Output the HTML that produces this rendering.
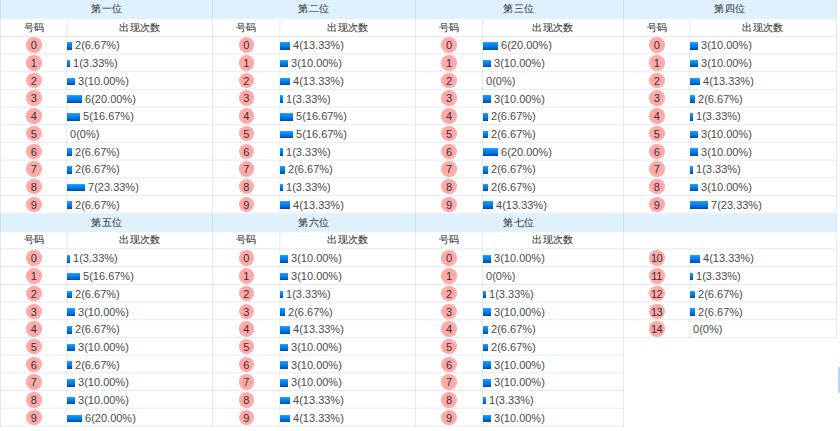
<!DOCTYPE html>
<html><head><meta charset="utf-8"><style>
html,body{margin:0;padding:0;background:#fff;width:840px;height:431px;overflow:hidden;position:relative}
body{font-family:"Liberation Sans",sans-serif;color:#4a4a4a;font-size:11px}
.t{position:absolute;width:120px;height:20px;line-height:20px;text-align:center;color:#383838;font-size:10px;margin-top:0.7px;transform:scale(1.035);-webkit-text-stroke:0.12px #555}
.c{position:absolute;width:15.5px;height:15.5px;border-radius:50%;background:#ffa9a9;text-align:center;line-height:17px;color:#333;letter-spacing:-0.5px;text-indent:-0.5px}
.v{position:absolute;height:20px;line-height:20px;white-space:nowrap}
.v i{display:inline-block;height:7.5px;vertical-align:-0.3px;background:linear-gradient(#45a3f0,#0893fb 18%,#0082ee 45%,#0066cc 75%,#004a9e)}
</style></head><body>
<div style="position:absolute;left:0px;top:0px;width:836px;height:18px;background:#dff1fc;"></div>
<div style="position:absolute;left:0px;top:214px;width:836px;height:17px;background:#dff1fc;"></div>
<div style="position:absolute;left:0px;top:18px;width:837px;height:1px;background:rgba(120,155,185,0.160);"></div>
<div style="position:absolute;left:0px;top:19px;width:837px;height:1px;background:rgba(120,155,185,0.040);"></div>
<div style="position:absolute;left:0px;top:35px;width:837px;height:1px;background:rgba(120,155,185,0.030);"></div>
<div style="position:absolute;left:0px;top:36px;width:837px;height:1px;background:rgba(120,155,185,0.170);"></div>
<div style="position:absolute;left:0px;top:53px;width:837px;height:1px;background:rgba(120,155,185,0.094);"></div>
<div style="position:absolute;left:0px;top:54px;width:837px;height:1px;background:rgba(120,155,185,0.106);"></div>
<div style="position:absolute;left:0px;top:71px;width:837px;height:1px;background:rgba(120,155,185,0.158);"></div>
<div style="position:absolute;left:0px;top:72px;width:837px;height:1px;background:rgba(120,155,185,0.042);"></div>
<div style="position:absolute;left:0px;top:88px;width:837px;height:1px;background:rgba(120,155,185,0.022);"></div>
<div style="position:absolute;left:0px;top:89px;width:837px;height:1px;background:rgba(120,155,185,0.178);"></div>
<div style="position:absolute;left:0px;top:106px;width:837px;height:1px;background:rgba(120,155,185,0.086);"></div>
<div style="position:absolute;left:0px;top:107px;width:837px;height:1px;background:rgba(120,155,185,0.114);"></div>
<div style="position:absolute;left:0px;top:124px;width:837px;height:1px;background:rgba(120,155,185,0.150);"></div>
<div style="position:absolute;left:0px;top:125px;width:837px;height:1px;background:rgba(120,155,185,0.050);"></div>
<div style="position:absolute;left:0px;top:141px;width:837px;height:1px;background:rgba(120,155,185,0.014);"></div>
<div style="position:absolute;left:0px;top:142px;width:837px;height:1px;background:rgba(120,155,185,0.186);"></div>
<div style="position:absolute;left:0px;top:159px;width:837px;height:1px;background:rgba(120,155,185,0.078);"></div>
<div style="position:absolute;left:0px;top:160px;width:837px;height:1px;background:rgba(120,155,185,0.122);"></div>
<div style="position:absolute;left:0px;top:177px;width:837px;height:1px;background:rgba(120,155,185,0.142);"></div>
<div style="position:absolute;left:0px;top:178px;width:837px;height:1px;background:rgba(120,155,185,0.058);"></div>
<div style="position:absolute;left:0px;top:194px;width:837px;height:1px;background:rgba(120,155,185,0.006);"></div>
<div style="position:absolute;left:0px;top:195px;width:837px;height:1px;background:rgba(120,155,185,0.194);"></div>
<div style="position:absolute;left:0px;top:212px;width:837px;height:1px;background:rgba(120,155,185,0.070);"></div>
<div style="position:absolute;left:0px;top:213px;width:837px;height:1px;background:rgba(120,155,185,0.130);"></div>
<div style="position:absolute;left:0px;top:231px;width:837px;height:1px;background:rgba(120,155,185,0.160);"></div>
<div style="position:absolute;left:0px;top:232px;width:837px;height:1px;background:rgba(120,155,185,0.040);"></div>
<div style="position:absolute;left:0px;top:248px;width:837px;height:1px;background:rgba(120,155,185,0.120);"></div>
<div style="position:absolute;left:0px;top:249px;width:837px;height:1px;background:rgba(120,155,185,0.080);"></div>
<div style="position:absolute;left:0px;top:266px;width:837px;height:1px;background:rgba(120,155,185,0.180);"></div>
<div style="position:absolute;left:0px;top:267px;width:837px;height:1px;background:rgba(120,155,185,0.020);"></div>
<div style="position:absolute;left:0px;top:283px;width:837px;height:1px;background:rgba(120,155,185,0.040);"></div>
<div style="position:absolute;left:0px;top:284px;width:837px;height:1px;background:rgba(120,155,185,0.160);"></div>
<div style="position:absolute;left:0px;top:301px;width:837px;height:1px;background:rgba(120,155,185,0.100);"></div>
<div style="position:absolute;left:0px;top:302px;width:837px;height:1px;background:rgba(120,155,185,0.100);"></div>
<div style="position:absolute;left:0px;top:319px;width:837px;height:1px;background:rgba(120,155,185,0.160);"></div>
<div style="position:absolute;left:0px;top:320px;width:837px;height:1px;background:rgba(120,155,185,0.040);"></div>
<div style="position:absolute;left:0px;top:336px;width:837px;height:1px;background:rgba(120,155,185,0.020);"></div>
<div style="position:absolute;left:0px;top:337px;width:837px;height:1px;background:rgba(120,155,185,0.180);"></div>
<div style="position:absolute;left:0px;top:354px;width:624px;height:1px;background:rgba(120,155,185,0.080);"></div>
<div style="position:absolute;left:0px;top:355px;width:624px;height:1px;background:rgba(120,155,185,0.120);"></div>
<div style="position:absolute;left:0px;top:372px;width:624px;height:1px;background:rgba(120,155,185,0.140);"></div>
<div style="position:absolute;left:0px;top:373px;width:624px;height:1px;background:rgba(120,155,185,0.060);"></div>
<div style="position:absolute;left:0px;top:390px;width:624px;height:1px;background:rgba(120,155,185,0.200);"></div>
<div style="position:absolute;left:0px;top:407px;width:624px;height:1px;background:rgba(120,155,185,0.060);"></div>
<div style="position:absolute;left:0px;top:408px;width:624px;height:1px;background:rgba(120,155,185,0.140);"></div>
<div style="position:absolute;left:0px;top:425px;width:624px;height:1px;background:rgba(120,155,185,0.120);"></div>
<div style="position:absolute;left:0px;top:426px;width:624px;height:1px;background:rgba(120,155,185,0.080);"></div>
<div style="position:absolute;left:0px;top:0px;width:1px;height:427px;background:rgba(120,155,185,0.200);"></div>
<div style="position:absolute;left:66px;top:19px;width:1px;height:194px;background:rgba(120,155,185,0.120);"></div>
<div style="position:absolute;left:67px;top:19px;width:1px;height:194px;background:rgba(120,155,185,0.080);"></div>
<div style="position:absolute;left:66px;top:232px;width:1px;height:195px;background:rgba(120,155,185,0.120);"></div>
<div style="position:absolute;left:67px;top:232px;width:1px;height:195px;background:rgba(120,155,185,0.080);"></div>
<div style="position:absolute;left:212px;top:0px;width:1px;height:427px;background:rgba(120,155,185,0.200);"></div>
<div style="position:absolute;left:279px;top:19px;width:1px;height:194px;background:rgba(120,155,185,0.120);"></div>
<div style="position:absolute;left:280px;top:19px;width:1px;height:194px;background:rgba(120,155,185,0.080);"></div>
<div style="position:absolute;left:279px;top:232px;width:1px;height:195px;background:rgba(120,155,185,0.120);"></div>
<div style="position:absolute;left:280px;top:232px;width:1px;height:195px;background:rgba(120,155,185,0.080);"></div>
<div style="position:absolute;left:414px;top:0px;width:1px;height:427px;background:rgba(120,155,185,0.030);"></div>
<div style="position:absolute;left:415px;top:0px;width:1px;height:427px;background:rgba(120,155,185,0.170);"></div>
<div style="position:absolute;left:482px;top:19px;width:1px;height:194px;background:rgba(120,155,185,0.200);"></div>
<div style="position:absolute;left:482px;top:232px;width:1px;height:195px;background:rgba(120,155,185,0.200);"></div>
<div style="position:absolute;left:622px;top:0px;width:1px;height:427px;background:rgba(120,155,185,0.008);"></div>
<div style="position:absolute;left:623px;top:0px;width:1px;height:427px;background:rgba(120,155,185,0.192);"></div>
<div style="position:absolute;left:689px;top:19px;width:1px;height:194px;background:rgba(120,155,185,0.120);"></div>
<div style="position:absolute;left:690px;top:19px;width:1px;height:194px;background:rgba(120,155,185,0.080);"></div>
<div style="position:absolute;left:689px;top:249px;width:1px;height:89px;background:rgba(120,155,185,0.120);"></div>
<div style="position:absolute;left:690px;top:249px;width:1px;height:89px;background:rgba(120,155,185,0.080);"></div>
<div style="position:absolute;left:835px;top:0px;width:1px;height:338px;background:rgba(120,155,185,0.050);"></div>
<div style="position:absolute;left:836px;top:0px;width:1px;height:338px;background:rgba(120,155,185,0.150);"></div>
<div class="t" style="left:46.50px;top:-1.40px">第一位</div>
<div class="t" style="left:-26.30px;top:17.02px">号码</div>
<div class="t" style="left:79.70px;top:17.02px">出现次数</div>
<div class="c" style="left:26.10px;top:37.44px">0</div>
<div class="v" style="left:67px;top:35.49px"><i style="width:5px"></i> 2(6.67%)</div>
<div class="c" style="left:26.10px;top:55.12px">1</div>
<div class="v" style="left:67px;top:53.17px"><i style="width:3px"></i> 1(3.33%)</div>
<div class="c" style="left:26.10px;top:72.80px">2</div>
<div class="v" style="left:67px;top:70.85px"><i style="width:8px"></i> 3(10.00%)</div>
<div class="c" style="left:26.10px;top:90.48px">3</div>
<div class="v" style="left:67px;top:88.53px"><i style="width:15px"></i> 6(20.00%)</div>
<div class="c" style="left:26.10px;top:108.16px">4</div>
<div class="v" style="left:67px;top:106.21px"><i style="width:13px"></i> 5(16.67%)</div>
<div class="c" style="left:26.10px;top:125.84px">5</div>
<div class="v" style="left:67px;top:123.89px"><i style="width:0px"></i> 0(0%)</div>
<div class="c" style="left:26.10px;top:143.52px">6</div>
<div class="v" style="left:67px;top:141.57px"><i style="width:5px"></i> 2(6.67%)</div>
<div class="c" style="left:26.10px;top:161.20px">7</div>
<div class="v" style="left:67px;top:159.25px"><i style="width:5px"></i> 2(6.67%)</div>
<div class="c" style="left:26.10px;top:178.88px">8</div>
<div class="v" style="left:67px;top:176.93px"><i style="width:18px"></i> 7(23.33%)</div>
<div class="c" style="left:26.10px;top:196.56px">9</div>
<div class="v" style="left:67px;top:194.61px"><i style="width:5px"></i> 2(6.67%)</div>
<div class="t" style="left:253.93px;top:-1.40px">第二位</div>
<div class="t" style="left:186.20px;top:17.02px">号码</div>
<div class="t" style="left:287.62px;top:17.02px">出现次数</div>
<div class="c" style="left:238.60px;top:37.44px">0</div>
<div class="v" style="left:280px;top:35.49px"><i style="width:10px"></i> 4(13.33%)</div>
<div class="c" style="left:238.60px;top:55.12px">1</div>
<div class="v" style="left:280px;top:53.17px"><i style="width:8px"></i> 3(10.00%)</div>
<div class="c" style="left:238.60px;top:72.80px">2</div>
<div class="v" style="left:280px;top:70.85px"><i style="width:10px"></i> 4(13.33%)</div>
<div class="c" style="left:238.60px;top:90.48px">3</div>
<div class="v" style="left:280px;top:88.53px"><i style="width:3px"></i> 1(3.33%)</div>
<div class="c" style="left:238.60px;top:108.16px">4</div>
<div class="v" style="left:280px;top:106.21px"><i style="width:13px"></i> 5(16.67%)</div>
<div class="c" style="left:238.60px;top:125.84px">5</div>
<div class="v" style="left:280px;top:123.89px"><i style="width:13px"></i> 5(16.67%)</div>
<div class="c" style="left:238.60px;top:143.52px">6</div>
<div class="v" style="left:280px;top:141.57px"><i style="width:3px"></i> 1(3.33%)</div>
<div class="c" style="left:238.60px;top:161.20px">7</div>
<div class="v" style="left:280px;top:159.25px"><i style="width:5px"></i> 2(6.67%)</div>
<div class="c" style="left:238.60px;top:178.88px">8</div>
<div class="v" style="left:280px;top:176.93px"><i style="width:3px"></i> 1(3.33%)</div>
<div class="c" style="left:238.60px;top:196.56px">9</div>
<div class="v" style="left:280px;top:194.61px"><i style="width:10px"></i> 4(13.33%)</div>
<div class="t" style="left:459.40px;top:-1.40px">第三位</div>
<div class="t" style="left:388.93px;top:17.02px">号码</div>
<div class="t" style="left:492.98px;top:17.02px">出现次数</div>
<div class="c" style="left:441.32px;top:37.44px">0</div>
<div class="v" style="left:483px;top:35.49px"><i style="width:15px"></i> 6(20.00%)</div>
<div class="c" style="left:441.32px;top:55.12px">1</div>
<div class="v" style="left:483px;top:53.17px"><i style="width:8px"></i> 3(10.00%)</div>
<div class="c" style="left:441.32px;top:72.80px">2</div>
<div class="v" style="left:483px;top:70.85px"><i style="width:0px"></i> 0(0%)</div>
<div class="c" style="left:441.32px;top:90.48px">3</div>
<div class="v" style="left:483px;top:88.53px"><i style="width:8px"></i> 3(10.00%)</div>
<div class="c" style="left:441.32px;top:108.16px">4</div>
<div class="v" style="left:483px;top:106.21px"><i style="width:5px"></i> 2(6.67%)</div>
<div class="c" style="left:441.32px;top:125.84px">5</div>
<div class="v" style="left:483px;top:123.89px"><i style="width:5px"></i> 2(6.67%)</div>
<div class="c" style="left:441.32px;top:143.52px">6</div>
<div class="v" style="left:483px;top:141.57px"><i style="width:15px"></i> 6(20.00%)</div>
<div class="c" style="left:441.32px;top:161.20px">7</div>
<div class="v" style="left:483px;top:159.25px"><i style="width:5px"></i> 2(6.67%)</div>
<div class="c" style="left:441.32px;top:178.88px">8</div>
<div class="v" style="left:483px;top:176.93px"><i style="width:5px"></i> 2(6.67%)</div>
<div class="c" style="left:441.32px;top:196.56px">9</div>
<div class="v" style="left:483px;top:194.61px"><i style="width:10px"></i> 4(13.33%)</div>
<div class="t" style="left:669.86px;top:-1.40px">第四位</div>
<div class="t" style="left:596.68px;top:17.02px">号码</div>
<div class="t" style="left:703.08px;top:17.02px">出现次数</div>
<div class="c" style="left:649.08px;top:37.44px">0</div>
<div class="v" style="left:690px;top:35.49px"><i style="width:8px"></i> 3(10.00%)</div>
<div class="c" style="left:649.08px;top:55.12px">1</div>
<div class="v" style="left:690px;top:53.17px"><i style="width:8px"></i> 3(10.00%)</div>
<div class="c" style="left:649.08px;top:72.80px">2</div>
<div class="v" style="left:690px;top:70.85px"><i style="width:10px"></i> 4(13.33%)</div>
<div class="c" style="left:649.08px;top:90.48px">3</div>
<div class="v" style="left:690px;top:88.53px"><i style="width:5px"></i> 2(6.67%)</div>
<div class="c" style="left:649.08px;top:108.16px">4</div>
<div class="v" style="left:690px;top:106.21px"><i style="width:3px"></i> 1(3.33%)</div>
<div class="c" style="left:649.08px;top:125.84px">5</div>
<div class="v" style="left:690px;top:123.89px"><i style="width:8px"></i> 3(10.00%)</div>
<div class="c" style="left:649.08px;top:143.52px">6</div>
<div class="v" style="left:690px;top:141.57px"><i style="width:8px"></i> 3(10.00%)</div>
<div class="c" style="left:649.08px;top:161.20px">7</div>
<div class="v" style="left:690px;top:159.25px"><i style="width:3px"></i> 1(3.33%)</div>
<div class="c" style="left:649.08px;top:178.88px">8</div>
<div class="v" style="left:690px;top:176.93px"><i style="width:8px"></i> 3(10.00%)</div>
<div class="c" style="left:649.08px;top:196.56px">9</div>
<div class="v" style="left:690px;top:194.61px"><i style="width:18px"></i> 7(23.33%)</div>
<div class="t" style="left:46.50px;top:211.93px">第五位</div>
<div class="t" style="left:-26.30px;top:229.80px">号码</div>
<div class="t" style="left:79.70px;top:229.80px">出现次数</div>
<div class="c" style="left:26.10px;top:250.40px">0</div>
<div class="v" style="left:67px;top:248.45px"><i style="width:3px"></i> 1(3.33%)</div>
<div class="c" style="left:26.10px;top:268.10px">1</div>
<div class="v" style="left:67px;top:266.15px"><i style="width:13px"></i> 5(16.67%)</div>
<div class="c" style="left:26.10px;top:285.80px">2</div>
<div class="v" style="left:67px;top:283.85px"><i style="width:5px"></i> 2(6.67%)</div>
<div class="c" style="left:26.10px;top:303.50px">3</div>
<div class="v" style="left:67px;top:301.55px"><i style="width:8px"></i> 3(10.00%)</div>
<div class="c" style="left:26.10px;top:321.20px">4</div>
<div class="v" style="left:67px;top:319.25px"><i style="width:5px"></i> 2(6.67%)</div>
<div class="c" style="left:26.10px;top:338.90px">5</div>
<div class="v" style="left:67px;top:336.95px"><i style="width:8px"></i> 3(10.00%)</div>
<div class="c" style="left:26.10px;top:356.60px">6</div>
<div class="v" style="left:67px;top:354.65px"><i style="width:5px"></i> 2(6.67%)</div>
<div class="c" style="left:26.10px;top:374.30px">7</div>
<div class="v" style="left:67px;top:372.35px"><i style="width:8px"></i> 3(10.00%)</div>
<div class="c" style="left:26.10px;top:392.00px">8</div>
<div class="v" style="left:67px;top:390.05px"><i style="width:8px"></i> 3(10.00%)</div>
<div class="c" style="left:26.10px;top:409.70px">9</div>
<div class="v" style="left:67px;top:407.75px"><i style="width:15px"></i> 6(20.00%)</div>
<div class="t" style="left:253.93px;top:211.93px">第六位</div>
<div class="t" style="left:186.20px;top:229.80px">号码</div>
<div class="t" style="left:287.62px;top:229.80px">出现次数</div>
<div class="c" style="left:238.60px;top:250.40px">0</div>
<div class="v" style="left:280px;top:248.45px"><i style="width:8px"></i> 3(10.00%)</div>
<div class="c" style="left:238.60px;top:268.10px">1</div>
<div class="v" style="left:280px;top:266.15px"><i style="width:8px"></i> 3(10.00%)</div>
<div class="c" style="left:238.60px;top:285.80px">2</div>
<div class="v" style="left:280px;top:283.85px"><i style="width:3px"></i> 1(3.33%)</div>
<div class="c" style="left:238.60px;top:303.50px">3</div>
<div class="v" style="left:280px;top:301.55px"><i style="width:5px"></i> 2(6.67%)</div>
<div class="c" style="left:238.60px;top:321.20px">4</div>
<div class="v" style="left:280px;top:319.25px"><i style="width:10px"></i> 4(13.33%)</div>
<div class="c" style="left:238.60px;top:338.90px">5</div>
<div class="v" style="left:280px;top:336.95px"><i style="width:8px"></i> 3(10.00%)</div>
<div class="c" style="left:238.60px;top:356.60px">6</div>
<div class="v" style="left:280px;top:354.65px"><i style="width:8px"></i> 3(10.00%)</div>
<div class="c" style="left:238.60px;top:374.30px">7</div>
<div class="v" style="left:280px;top:372.35px"><i style="width:8px"></i> 3(10.00%)</div>
<div class="c" style="left:238.60px;top:392.00px">8</div>
<div class="v" style="left:280px;top:390.05px"><i style="width:10px"></i> 4(13.33%)</div>
<div class="c" style="left:238.60px;top:409.70px">9</div>
<div class="v" style="left:280px;top:407.75px"><i style="width:10px"></i> 4(13.33%)</div>
<div class="t" style="left:459.40px;top:211.93px">第七位</div>
<div class="t" style="left:388.93px;top:229.80px">号码</div>
<div class="t" style="left:492.98px;top:229.80px">出现次数</div>
<div class="c" style="left:441.32px;top:250.40px">0</div>
<div class="v" style="left:483px;top:248.45px"><i style="width:8px"></i> 3(10.00%)</div>
<div class="c" style="left:441.32px;top:268.10px">1</div>
<div class="v" style="left:483px;top:266.15px"><i style="width:0px"></i> 0(0%)</div>
<div class="c" style="left:441.32px;top:285.80px">2</div>
<div class="v" style="left:483px;top:283.85px"><i style="width:3px"></i> 1(3.33%)</div>
<div class="c" style="left:441.32px;top:303.50px">3</div>
<div class="v" style="left:483px;top:301.55px"><i style="width:8px"></i> 3(10.00%)</div>
<div class="c" style="left:441.32px;top:321.20px">4</div>
<div class="v" style="left:483px;top:319.25px"><i style="width:5px"></i> 2(6.67%)</div>
<div class="c" style="left:441.32px;top:338.90px">5</div>
<div class="v" style="left:483px;top:336.95px"><i style="width:5px"></i> 2(6.67%)</div>
<div class="c" style="left:441.32px;top:356.60px">6</div>
<div class="v" style="left:483px;top:354.65px"><i style="width:8px"></i> 3(10.00%)</div>
<div class="c" style="left:441.32px;top:374.30px">7</div>
<div class="v" style="left:483px;top:372.35px"><i style="width:8px"></i> 3(10.00%)</div>
<div class="c" style="left:441.32px;top:392.00px">8</div>
<div class="v" style="left:483px;top:390.05px"><i style="width:3px"></i> 1(3.33%)</div>
<div class="c" style="left:441.32px;top:409.70px">9</div>
<div class="v" style="left:483px;top:407.75px"><i style="width:8px"></i> 3(10.00%)</div>
<div class="t" style="left:669.86px;top:211.93px"></div>
<div class="c" style="left:649.08px;top:250.40px">10</div>
<div class="v" style="left:690px;top:248.45px"><i style="width:10px"></i> 4(13.33%)</div>
<div class="c" style="left:649.08px;top:268.10px">11</div>
<div class="v" style="left:690px;top:266.15px"><i style="width:3px"></i> 1(3.33%)</div>
<div class="c" style="left:649.08px;top:285.80px">12</div>
<div class="v" style="left:690px;top:283.85px"><i style="width:5px"></i> 2(6.67%)</div>
<div class="c" style="left:649.08px;top:303.50px">13</div>
<div class="v" style="left:690px;top:301.55px"><i style="width:5px"></i> 2(6.67%)</div>
<div class="c" style="left:649.08px;top:321.20px">14</div>
<div class="v" style="left:690px;top:319.25px"><i style="width:0px"></i> 0(0%)</div>
<div style="position:absolute;left:838px;top:367px;width:1px;height:26px;background:#c3ddf8;"></div>
<div style="position:absolute;left:839px;top:367px;width:1px;height:26px;background:#b3d5f7;"></div>
</body></html>
